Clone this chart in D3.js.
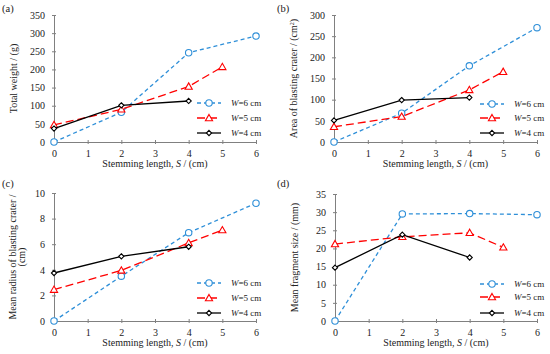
<!DOCTYPE html>
<html>
<head>
<meta charset="utf-8">
<script src="https://cdn.jsdelivr.net/npm/d3@7"></script>
<style>
  body { margin: 0; background: #fff; }
  text { font-family: "Liberation Serif", "Times New Roman", serif; fill: #222; }
</style>
</head>
<body>
<svg id="chart" width="550" height="354"></svg>
<script>
// Stemming length values for each series
const sW6 = [0, 2, 4, 6];
const sW5 = [0, 2, 4, 5];
const sW4 = [0, 2, 4];

// (a) Total weight
const weightW6 = [0, 82, 246, 292];
const weightW5 = [47, 90, 153, 207];
const weightW4 = [37, 101, 113];

// (b) Area of blasting crater
const areaW6 = [0, 68, 180, 270];
const areaW5 = [36, 60, 123, 166];
const areaW4 = [51, 99, 105];

// (c) Mean radius of blasting crater
const radiusW6 = [0, 3.5, 6.9, 9.2];
const radiusW5 = [2.45, 3.95, 6.1, 7.1];
const radiusW4 = [3.75, 5.05, 5.8];

// (d) Mean fragment size
const fragW6 = [0, 29.5, 29.6, 29.3];
const fragW5 = [21.2, 23.2, 24.3, 20.3];
const fragW4 = [14.7, 23.8, 17.5];

const seriesNames = ["W", "W", "W"];
const seriesUnits = ["=6 cm", "=5 cm", "=4 cm"];
const xTicks = [0, 1, 2, 3, 4, 5, 6];

const svg = d3.select("#chart");

// Series styling
const styles = [
    { color: "#2e8fd8", dash: "4,3", marker: "circle" },
    { color: "#ff0000", dash: "8,4", marker: "triangle" },
    { color: "#000000", dash: null, marker: "diamond" }
];

function drawMarker(g, type, cx, cy, color) {
    if (type === "circle") {
        g.append("circle").attr("cx", cx).attr("cy", cy).attr("r", 3.2)
            .attr("fill", "#fff").attr("stroke", color).attr("stroke-width", 1.1);
    } else if (type === "triangle") {
        const r = 3.6;
        g.append("path")
            .attr("d", `M${cx},${cy - r}L${cx + r},${cy + r * 0.75}L${cx - r},${cy + r * 0.75}Z`)
            .attr("fill", "#fff").attr("stroke", color).attr("stroke-width", 1.1);
    } else {
        const r = 2.6;
        g.append("path")
            .attr("d", `M${cx},${cy - r}L${cx + r},${cy}L${cx},${cy + r}L${cx - r},${cy}Z`)
            .attr("fill", "#fff").attr("stroke", color).attr("stroke-width", 1.1);
    }
}

function drawPanel(opt) {
    const g = svg.append("g");
    const x = d3.scaleLinear().domain([0, 6]).range([opt.x0, opt.x1]);
    const y = d3.scaleLinear().domain([0, opt.yMax]).range([opt.y0, opt.y1]);

    // Axes
    const xAxis = g.append("g")
        .attr("transform", `translate(0, ${opt.y0})`)
        .call(d3.axisBottom(x).tickValues(xTicks).tickFormat(d3.format("d"))
            .tickSize(2).tickPadding(6).tickSizeOuter(0));
    const yAxis = g.append("g")
        .attr("transform", `translate(${opt.x0}, 0)`)
        .call(d3.axisLeft(y).tickValues(d3.range(0, opt.yMax + 1e-9, opt.yStep))
            .tickFormat(d3.format("d")).tickSize(2).tickPadding(7).tickSizeOuter(0));

    [xAxis, yAxis].forEach(a => {
        a.select(".domain").attr("stroke", "#808080").attr("stroke-width", 1);
        a.selectAll(".tick line").attr("stroke", "#808080");
        a.selectAll(".tick text").attr("font-size", "10px")
            .attr("font-family", "Liberation Serif").attr("fill", "#222");
    });
    xAxis.selectAll(".tick line").attr("y1", -2).attr("y2", 2);
    yAxis.selectAll(".tick line").attr("x1", -2).attr("x2", 2);

    // Series
    opt.series.forEach((s, i) => {
        const st = styles[i];
        const pts = s.xs.map((v, j) => [x(v), y(s.ys[j])]);
        g.append("path")
            .attr("d", d3.line()(pts))
            .attr("fill", "none")
            .attr("stroke", st.color)
            .attr("stroke-width", 1.3)
            .attr("stroke-dasharray", st.dash);
        pts.forEach(p => drawMarker(g, st.marker, p[0], p[1], st.color));
    });

    // Legend
    opt.legendY.forEach((ly, i) => {
        const st = styles[i];
        g.append("line")
            .attr("x1", opt.legendX - 12).attr("x2", opt.legendX + 12)
            .attr("y1", ly).attr("y2", ly)
            .attr("stroke", st.color).attr("stroke-width", 1.3)
            .attr("stroke-dasharray", st.dash);
        drawMarker(g, st.marker, opt.legendX, ly, st.color);
        const t = g.append("text")
            .attr("x", opt.legendX + 22).attr("y", ly + 3)
            .attr("font-size", "9px");
        t.append("tspan").attr("font-style", "italic").text(seriesNames[i]);
        t.append("tspan").text(seriesUnits[i]);
    });

    // X title
    const xt = g.append("text")
        .attr("x", (opt.x0 + opt.x1) / 2).attr("y", opt.y0 + 25)
        .attr("text-anchor", "middle").attr("font-size", "10px");
    xt.append("tspan").text("Stemming length, ");
    xt.append("tspan").attr("font-style", "italic").text("S");
    xt.append("tspan").text(" / (cm)");

    // Y title
    const cy = (opt.y0 + opt.y1) / 2;
    opt.yTitle.forEach((line, k) => {
        const yt = g.append("text")
            .attr("transform", `translate(${opt.yTitleX + k * 9}, ${cy}) rotate(-90)`)
            .attr("text-anchor", "middle").attr("font-size", "10px");
        line.forEach(part => {
            const sp = yt.append("tspan").text(part.t);
            if (part.sup) sp.attr("baseline-shift", "super").attr("font-size", "6px");
        });
    });

    // Panel label
    g.append("text").attr("x", opt.labelX).attr("y", opt.labelY)
        .attr("font-size", "10.5px").text(opt.label);
}

drawPanel({
    label: "(a)", labelX: 2, labelY: 12,
    x0: 54, x1: 256, y0: 142, y1: 15, yMax: 350, yStep: 50,
    yTitle: [[{ t: "Total weight / (g)" }]], yTitleX: 17,
    legendX: 209, legendY: [103, 118, 133],
    series: [
        { xs: sW6, ys: weightW6 },
        { xs: sW5, ys: weightW5 },
        { xs: sW4, ys: weightW4 }
    ]
});

drawPanel({
    label: "(b)", labelX: 277, labelY: 12,
    x0: 334, x1: 537, y0: 142, y1: 15, yMax: 300, yStep: 50,
    yTitle: [[{ t: "Area of blasting crater / (cm" }, { t: "2", sup: true }, { t: ")" }]], yTitleX: 297,
    legendX: 492, legendY: [104, 118, 133],
    series: [
        { xs: sW6, ys: areaW6 },
        { xs: sW5, ys: areaW5 },
        { xs: sW4, ys: areaW4 }
    ]
});

drawPanel({
    label: "(c)", labelX: 2, labelY: 187,
    x0: 54, x1: 256, y0: 321, y1: 193, yMax: 10, yStep: 2,
    yTitle: [[{ t: "Mean radius of blasting crater /" }], [{ t: "(cm)" }]], yTitleX: 16,
    legendX: 209, legendY: [283, 298, 313],
    series: [
        { xs: sW6, ys: radiusW6 },
        { xs: sW5, ys: radiusW5 },
        { xs: sW4, ys: radiusW4 }
    ]
});

drawPanel({
    label: "(d)", labelX: 277, labelY: 187,
    x0: 335, x1: 537, y0: 321, y1: 194, yMax: 35, yStep: 5,
    yTitle: [[{ t: "Mean fragment size / (mm)" }]], yTitleX: 298,
    legendX: 492, legendY: [284, 297, 313],
    series: [
        { xs: sW6, ys: fragW6 },
        { xs: sW5, ys: fragW5 },
        { xs: sW4, ys: fragW4 }
    ]
});
</script>
</body>
</html>
